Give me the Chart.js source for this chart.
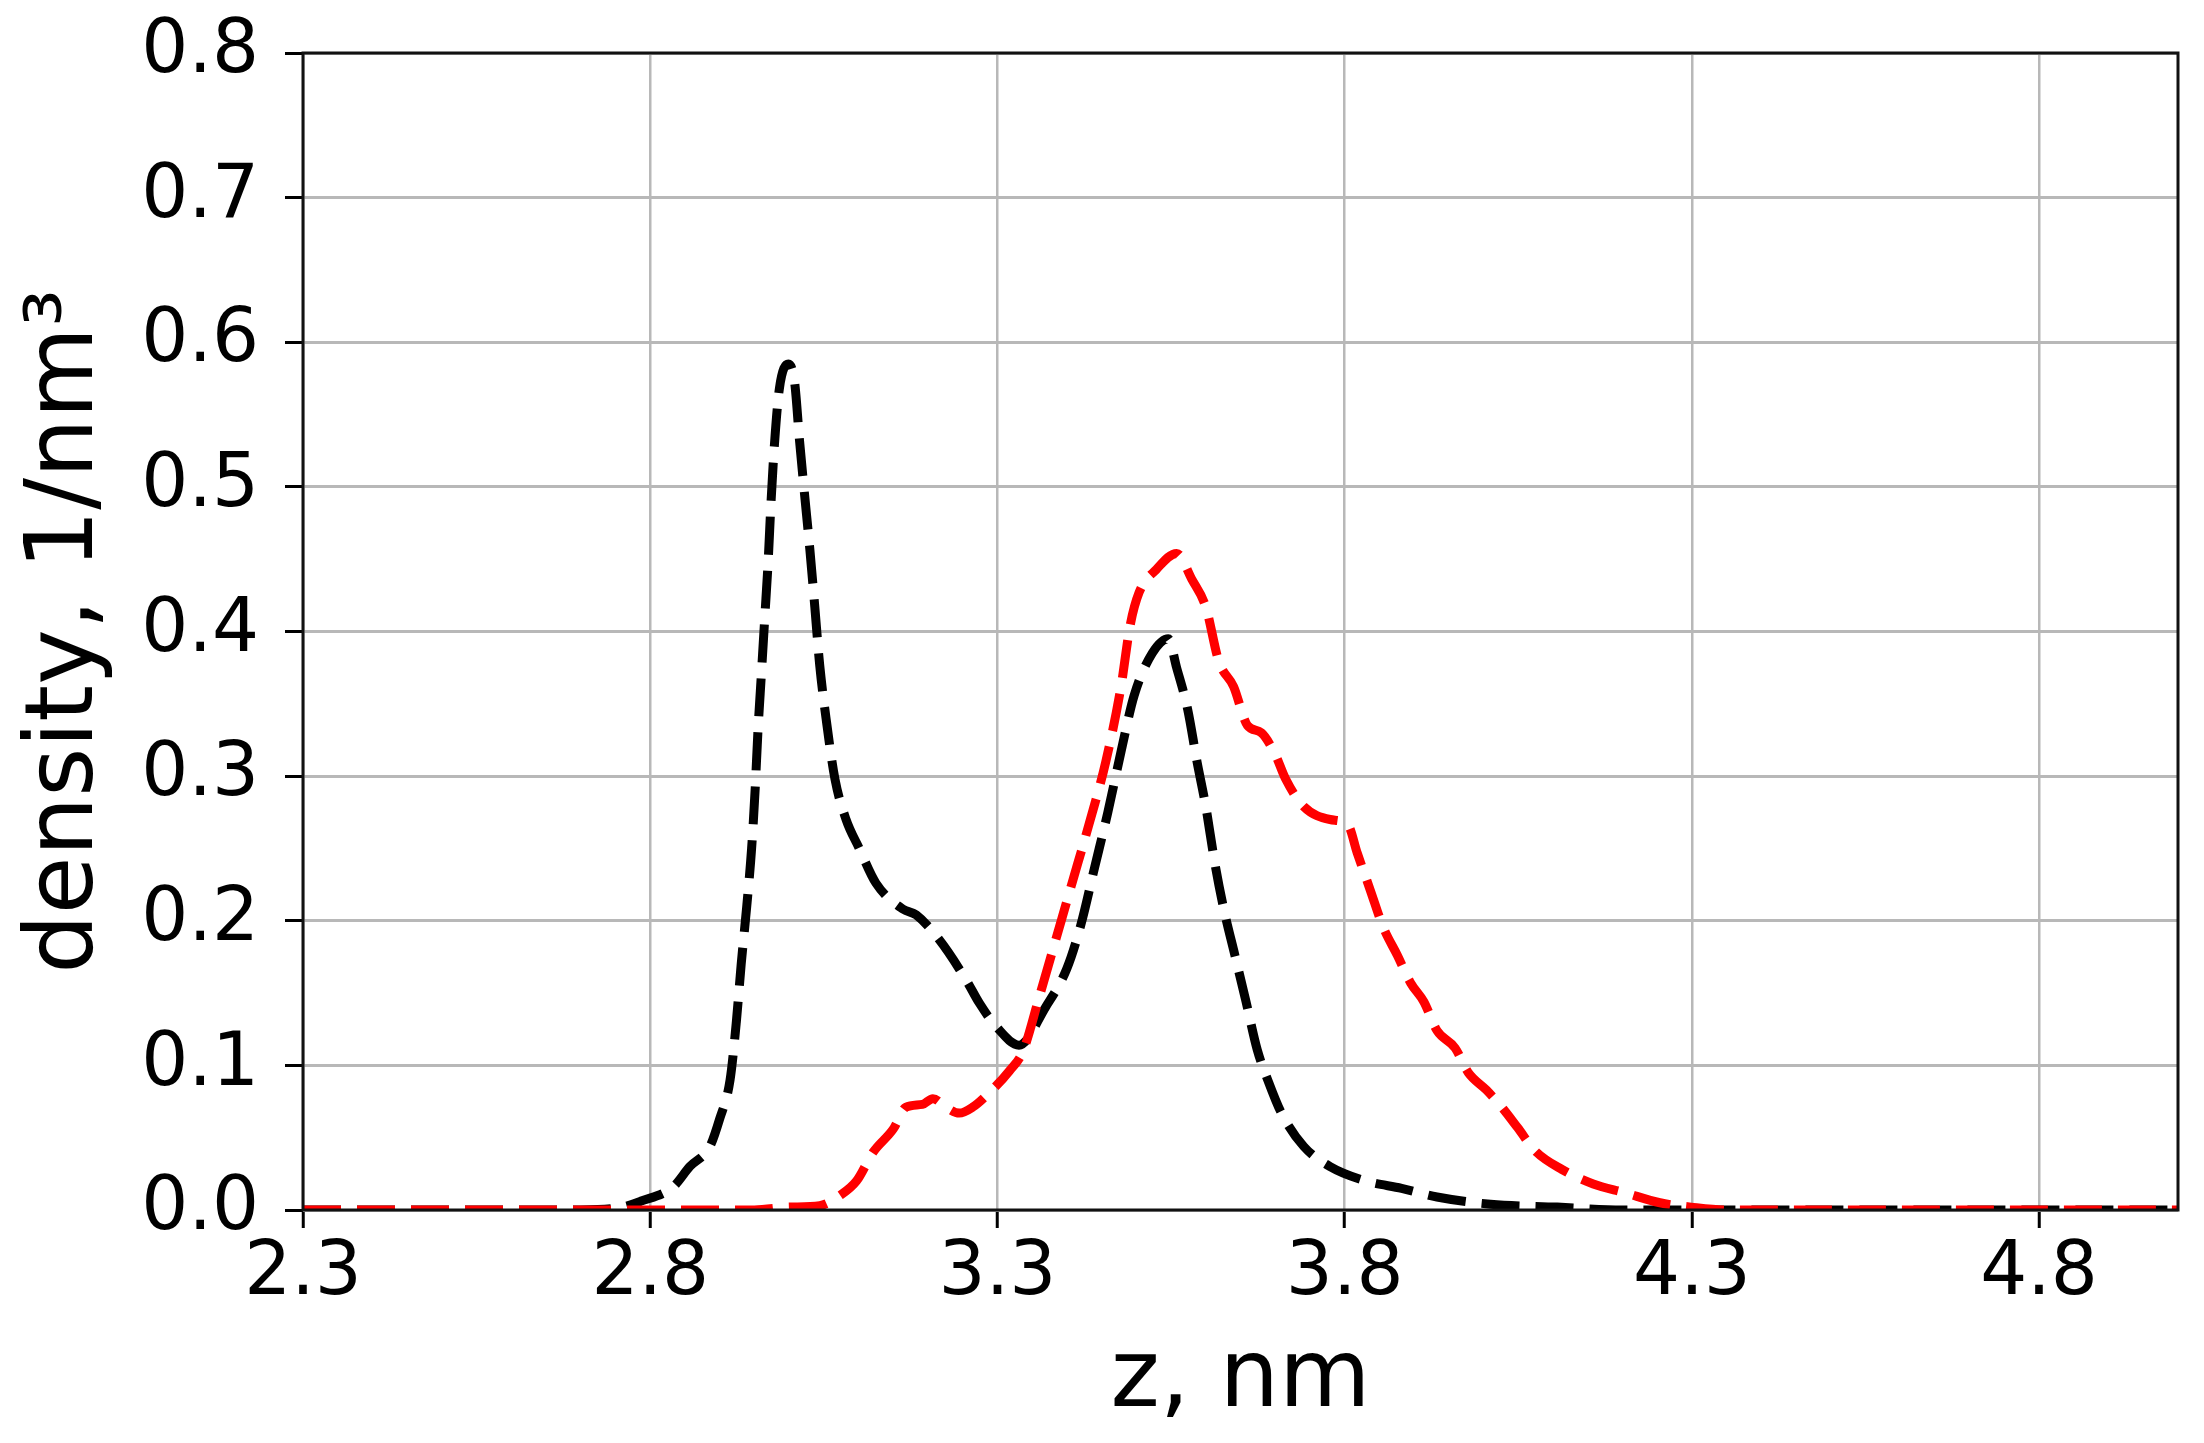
<!DOCTYPE html>
<html>
<head>
<meta charset="utf-8">
<script src="https://cdn.jsdelivr.net/npm/chart.js@4.4.1/dist/chart.umd.min.js"></script>
<style>
  html, body { margin: 0; padding: 0; background: #fff; }
  #wrap { width: 2204px; height: 1443px; }
</style>
</head>
<body>
<div id="wrap"><canvas id="densityChart"></canvas></div>
<script>
// Density profiles (z in nm, density in 1/nm^3)
const blackZ = [2.30, 2.70, 2.76, 2.786, 2.833, 2.857, 2.886, 2.90, 2.915, 2.924, 2.931, 2.939, 2.946, 2.951,
  2.955, 2.96, 2.965, 2.97, 2.974, 2.979, 2.986, 2.999, 3.008, 3.015, 3.022, 3.030, 3.037, 3.044, 3.054,
  3.066, 3.082, 3.101, 3.125, 3.164, 3.183, 3.216, 3.255, 3.274, 3.298, 3.331, 3.369, 3.40, 3.42, 3.44,
  3.459, 3.478, 3.497, 3.523, 3.546, 3.558, 3.574, 3.587, 3.60, 3.613, 3.626, 3.642, 3.658, 3.674, 3.69,
  3.709, 3.741, 3.779, 3.831, 3.882, 3.933, 4.01, 4.106, 4.20, 5.0];
const blackDensity = [0, 0, 0.002, 0.006, 0.016, 0.03, 0.044, 0.063, 0.09, 0.13, 0.17, 0.21, 0.25, 0.29,
  0.33, 0.37, 0.41, 0.45, 0.49, 0.53, 0.568, 0.585, 0.572, 0.532, 0.496, 0.456, 0.417, 0.377, 0.337,
  0.298, 0.27, 0.25, 0.226, 0.208, 0.204, 0.187, 0.159, 0.143, 0.127, 0.114, 0.14, 0.167, 0.197, 0.237,
  0.275, 0.317, 0.356, 0.385, 0.395, 0.375, 0.346, 0.311, 0.279, 0.24, 0.208, 0.176, 0.144, 0.111, 0.089,
  0.067, 0.044, 0.03, 0.02, 0.015, 0.009, 0.004, 0.002, 0, 0];

const redZ = [2.30, 2.95, 3.00, 3.044, 3.073, 3.097, 3.121, 3.15, 3.168, 3.192, 3.207, 3.226, 3.245, 3.264,
  3.288, 3.317, 3.337, 3.36, 3.384, 3.408, 3.432, 3.456, 3.478, 3.491, 3.504, 3.529, 3.558, 3.58, 3.60,
  3.619, 3.64, 3.66, 3.68, 3.70, 3.715, 3.741, 3.779, 3.805, 3.818, 3.837, 3.856, 3.876, 3.895, 3.914,
  3.933, 3.959, 3.978, 4.004, 4.023, 4.049, 4.074, 4.113, 4.158, 4.203, 4.254, 4.299, 4.35, 5.0];
const redDensity = [0, 0, 0.002, 0.003, 0.01, 0.02, 0.04, 0.056, 0.071, 0.073, 0.077, 0.071, 0.067, 0.071,
  0.081, 0.096, 0.11, 0.147, 0.187, 0.227, 0.267, 0.31, 0.362, 0.404, 0.427, 0.443, 0.454, 0.436, 0.417,
  0.379, 0.362, 0.335, 0.33, 0.315, 0.298, 0.279, 0.27, 0.266, 0.247, 0.221, 0.195, 0.176, 0.157, 0.144,
  0.124, 0.112, 0.095, 0.083, 0.073, 0.057, 0.041, 0.028, 0.018, 0.012, 0.005, 0.002, 0, 0];

const xTicks = [2.3, 2.8, 3.3, 3.8, 4.3, 4.8];
const yTicks = [0.0, 0.1, 0.2, 0.3, 0.4, 0.5, 0.6, 0.7, 0.8];

const toPoints = (xs, ys) => xs.map((x, i) => ({ x: x, y: ys[i] }));

// box around the plot area (matplotlib style spines)
const frame = {
  id: "frame",
  afterDatasetsDraw(chart) {
    const { ctx, chartArea: a } = chart;
    ctx.save();
    ctx.strokeStyle = "#111";
    ctx.lineWidth = 3;
    ctx.strokeRect(a.left, a.top, a.right - a.left, a.bottom - a.top);
    ctx.restore();
  },
};

const font = "'DejaVu Sans', sans-serif";

const densityChart = new Chart(document.getElementById("densityChart"), {
  type: "line",
  data: {
    datasets: [
      {
        data: toPoints(redZ, redDensity),
        borderColor: "#ff0000",
        borderWidth: 9,
        borderDash: [38, 16],
        pointRadius: 0,
        cubicInterpolationMode: "monotone",
      },
      {
        data: toPoints(blackZ, blackDensity),
        borderColor: "#000000",
        borderWidth: 9,
        borderDash: [38, 16],
        pointRadius: 0,
        cubicInterpolationMode: "monotone",
      },
    ],
  },
  options: {
    responsive: true,
    maintainAspectRatio: false,
    animation: false,
    layout: { padding: { top: 53, right: 26, left: 0, bottom: 0 } },
    plugins: { legend: { display: false }, tooltip: { enabled: false } },
    scales: {
      x: {
        type: "linear",
        min: 2.3,
        max: 5.0,
        afterBuildTicks: (scale) => { scale.ticks = xTicks.map((v) => ({ value: v })); },
        afterFit: (scale) => {
          scale.height = 233;
          scale.paddingLeft = 0;
          scale.paddingRight = 0;
        },
        border: { display: false },
        grid: { color: "#b8b8b8", lineWidth: 2.5, tickColor: "#000", tickLength: 18, tickWidth: 3 },
        ticks: {
          color: "#000",
          font: { family: font, size: 74 },
          padding: 2,
          maxRotation: 0,
          callback: (v) => v.toFixed(1),
        },
        title: {
          display: true,
          text: "z, nm",
          color: "#000",
          font: { family: font, size: 94 },
          padding: { top: 0, bottom: 5 },
        },
      },
      y: {
        min: 0,
        max: 0.8,
        afterBuildTicks: (scale) => { scale.ticks = yTicks.map((v) => ({ value: v })); },
        afterFit: (scale) => {
          scale.width = 303;
          scale.paddingTop = 0;
          scale.paddingBottom = 0;
        },
        border: { display: false },
        grid: { color: "#b8b8b8", lineWidth: 3, tickColor: "#000", tickLength: 18, tickWidth: 3 },
        ticks: {
          color: "#000",
          font: { family: font, size: 74 },
          padding: 26,
          callback: (v) => v.toFixed(1),
        },
        title: {
          display: true,
          text: "density, 1/nm³",
          color: "#000",
          font: { family: font, size: 94 },
          padding: { top: 11, bottom: 0 },
        },
      },
    },
  },
  plugins: [frame],
});
</script>
</body>
</html>
